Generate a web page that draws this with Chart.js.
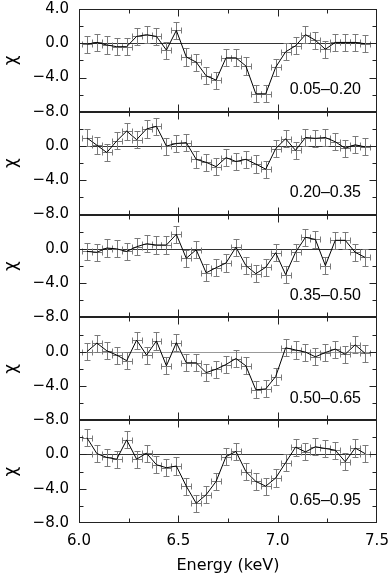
<!DOCTYPE html>
<html>
<head>
<meta charset="utf-8">
<script src="https://cdn.jsdelivr.net/npm/chart.js@4"></script>
<style>
  html, body { margin: 0; padding: 0; background: #fff; }
  #wrap { width: 389px; height: 575px; }
</style>
</head>
<body>
<div id="wrap"><canvas id="chiChart"></canvas></div>
<script>
// bin centres (keV), same for every panel
const energy = [6.04, 6.09, 6.14, 6.19, 6.24, 6.29, 6.34, 6.39, 6.44, 6.49,
                6.54, 6.59, 6.64, 6.69, 6.74, 6.79, 6.84, 6.89, 6.94, 6.99,
                7.04, 7.09, 7.14, 7.19, 7.24, 7.29, 7.34, 7.39, 7.44];

const ranges = ['0.05\u20130.20', '0.20\u20130.35', '0.35\u20130.50', '0.50\u20130.65', '0.65\u20130.95'];

// residuals in sigma, top panel first
const chi005 = [-0.1, 0.1, -0.2, -0.4, -0.4, 0.8, 1.0, 0.8, -0.8, 1.5,
                -1.6, -2.2, -3.8, -4.3, -1.7, -1.7, -2.65, -5.9, -5.9, -2.8,
                -1.0, -0.3, 1.0, 0.35, -0.7, 0.1, 0.1, 0.1, -0.05];
const chi020 = [0.95, 0.1, -0.75, 0.6, 1.75, 0.75, 2.0, 2.3, 0.0, 0.3,
                0.4, -1.55, -1.9, -2.4, -1.35, -1.8, -1.55, -2.1, -2.7, -0.3,
                0.85, -0.5, 1.0, 0.9, 1.0, 0.5, -0.25, 0.15, -0.1];
const chi035 = [-0.3, -0.4, 0.1, 0.0, -0.3, 0.25, 0.6, 0.45, 0.45, 1.7,
                -1.1, -0.1, -2.8, -2.2, -1.65, 0.2, -1.95, -2.9, -2.15, -0.45,
                -3.0, -0.4, 1.35, 1.1, -1.95, 1.0, 1.0, -0.4, -1.0];
const chi050 = [0.0, 1.0, 0.1, -0.4, -1.05, 1.35, -0.4, 1.25, -1.65, 1.05,
                -1.3, -1.3, -2.45, -2.05, -1.5, -0.8, -1.65, -4.45, -4.35, -2.9,
                0.45, 0.2, -0.05, -0.6, -0.1, 0.3, -0.3, 0.8, -0.2];
const chi065 = [1.95, 0.1, -0.35, -0.55, 1.7, -0.55, 0.15, -1.2, -1.55, -1.35,
                -3.7, -5.7, -4.7, -3.15, -0.25, 0.35, -2.0, -3.15, -3.7, -2.75,
                -0.95, 0.85, 0.3, 0.9, 0.7, 0.5, -0.85, 0.75, 0.1];
const panels = [chi005, chi020, chi035, chi050, chi065];

const CHI_ERR = 1.0;     // every point is +-1 sigma
const BIN_HALF = 0.025;  // half bin width, keV

const tickFont = { family: 'DejaVu Sans', size: 15 };

function fmt(v) {
  return (v < 0 ? '\u2212' : '') + Math.abs(v).toFixed(1);
}

// frame, inward ticks, zero line, error bars and range labels
const panelDecor = {
  id: 'panelDecor',
  beforeDatasetsDraw(chart) {
    const ctx = chart.ctx, xs = chart.scales.x, area = chart.chartArea;
    ctx.save();
    ctx.lineWidth = 1;
    panels.forEach((p, i) => {
      const ys = chart.scales['y' + i];
      const y0 = Math.round(ys.getPixelForValue(0)) + 0.5;
      ctx.strokeStyle = i == 3 ? '#999' : '#333';
      ctx.beginPath();
      ctx.moveTo(area.left, y0);
      ctx.lineTo(area.right, y0);
      ctx.stroke();
    });
    ctx.strokeStyle = '#7a7a7a';
    chart.data.datasets.forEach(ds => {
      const ys = chart.scales[ds.yAxisID];
      ds.data.forEach(pt => {
        const px = Math.round(xs.getPixelForValue(pt.x)) + 0.5;
        const py = Math.round(ys.getPixelForValue(pt.y)) + 0.5;
        const yHi = Math.round(ys.getPixelForValue(pt.y + CHI_ERR)) + 0.5;
        const yLo = Math.round(ys.getPixelForValue(pt.y - CHI_ERR)) + 0.5;
        const xL = Math.round(xs.getPixelForValue(pt.x - BIN_HALF)) + 0.5;
        const xR = Math.round(xs.getPixelForValue(pt.x + BIN_HALF)) + 0.5;
        ctx.beginPath();
        ctx.moveTo(px, yHi); ctx.lineTo(px, yLo);
        ctx.moveTo(xL, py); ctx.lineTo(xR, py);
        ctx.moveTo(px - 3, yHi); ctx.lineTo(px + 3, yHi);
        ctx.moveTo(px - 3, yLo); ctx.lineTo(px + 3, yLo);
        ctx.moveTo(xL, py - 3); ctx.lineTo(xL, py + 3);
        ctx.moveTo(xR, py - 3); ctx.lineTo(xR, py + 3);
        ctx.stroke();
      });
    });
    ctx.restore();
  },
  afterDatasetsDraw(chart) {
    const ctx = chart.ctx, xs = chart.scales.x, area = chart.chartArea;
    const L = Math.round(area.left) + 0.5, R = Math.round(area.right) - 0.5;
    ctx.save();
    ctx.lineWidth = 1;
    ctx.strokeStyle = '#222';
    panels.forEach((p, i) => {
      const ys = chart.scales['y' + i];
      const T = Math.round(ys.top) + 0.5, B = Math.round(ys.bottom) - 0.5;
      ctx.strokeRect(L, T, R - L, B - T);
      ctx.beginPath();
      xs.ticks.forEach(t => {
        if (t.value <= xs.min || t.value >= xs.max) return;
        const px = Math.round(xs.getPixelForValue(t.value)) + 0.5;
        const len = t.label ? 7 : 4;
        ctx.moveTo(px, B); ctx.lineTo(px, B - len);
        ctx.moveTo(px, T); ctx.lineTo(px, T + len);
      });
      ys.ticks.forEach(t => {
        if (t.value <= ys.min || t.value >= ys.max) return;
        const py = Math.round(ys.getPixelForValue(t.value)) + 0.5;
        const len = t.value % 4 === 0 ? 7 : 4;
        ctx.moveTo(L, py); ctx.lineTo(L + len, py);
        ctx.moveTo(R, py); ctx.lineTo(R - len, py);
      });
      ctx.stroke();
      ctx.fillStyle = '#000';
      ctx.font = '16px "Liberation Sans"';
      ctx.textAlign = 'right';
      ctx.textBaseline = 'middle';
      ctx.fillText(ranges[i], area.right - 16, ys.bottom - 22);
    });
    ctx.restore();
  }
};

const scales = {
  x: {
    type: 'linear',
    min: 6.0,
    max: 7.5,
    grid: { display: false, drawTicks: false },
    border: { display: false },
    ticks: {
      stepSize: 0.25,
      autoSkip: false,
      maxRotation: 0,
      padding: 9,
      color: '#000',
      font: tickFont,
      callback: v => (Math.abs(v * 2 - Math.round(v * 2)) < 1e-6 ? v.toFixed(1) : '')
    },
    title: {
      display: true,
      text: 'Energy (keV)',
      color: '#000',
      font: { family: 'DejaVu Sans', size: 16 },
      padding: { top: 0, bottom: 0 }
    },
    afterFit: s => {
      s.height = 52;
      s.paddingLeft = 0;
      s.paddingRight = 12;
    }
  }
};

// bottom panel first so the top panel ends up on top of the stack
for (let i = panels.length - 1; i >= 0; i--) {
  scales['y' + i] = {
    type: 'linear',
    position: 'left',
    stack: 'chi',
    stackWeight: 1,
    offset: false,
    min: -8,
    max: 4,
    grid: { display: false, drawTicks: false },
    border: { display: false },
    ticks: {
      stepSize: 2,
      autoSkip: false,
      padding: 10,
      color: '#000',
      font: tickFont,
      callback: v => {
        if (v % 4 !== 0) return '';
        if (v === 4 && i > 0) return '';
        return fmt(v);
      }
    },
    title: {
      display: true,
      text: '\u03c7',
      color: '#000',
      font: { family: 'DejaVu Sans', size: 17 },
      padding: { top: 1, bottom: 0 }
    },
    afterFit: s => {
      s.width = 79;
      s.paddingTop = 9;
      s.paddingBottom = 0;
    }
  };
}

const datasets = panels.map((chi, i) => ({
  label: ranges[i],
  yAxisID: 'y' + i,
  data: energy.map((e, j) => ({ x: e, y: chi[j] })),
  borderColor: '#000',
  borderWidth: 1,
  pointRadius: 0,
  tension: 0,
  fill: false
}));

new Chart(document.getElementById('chiChart').getContext('2d'), {
  type: 'line',
  data: { datasets: datasets },
  options: {
    responsive: true,
    maintainAspectRatio: false,
    animation: false,
    layout: { padding: 0 },
    plugins: {
      legend: { display: false },
      tooltip: { enabled: false }
    },
    scales: scales
  },
  plugins: [panelDecor]
});
</script>
</body>
</html>
